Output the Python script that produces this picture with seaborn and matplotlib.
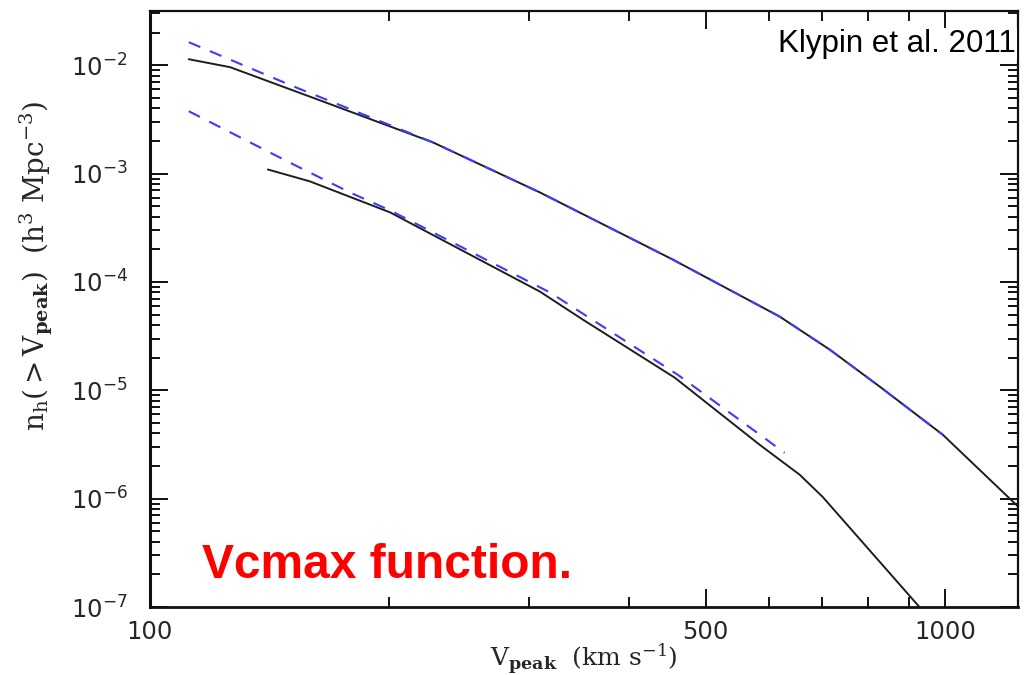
import numpy as np
import pandas as pd
import matplotlib
matplotlib.use("Agg")
import matplotlib.pyplot as plt
import seaborn as sns
from matplotlib.ticker import LogLocator, FixedLocator, NullFormatter, FixedFormatter

# Cumulative velocity function, Bolshoi halos (z = 0) and the z ~ 3 sample
v_hi = [111.9, 126.1, 162.2, 226.9, 309.3, 454.4, 619.4, 716.3, 827.9, 993.5, 1241.0]
n_hi = [1.135e-2, 9.59e-3, 4.85e-3, 1.94e-3, 6.70e-4, 1.61e-4, 4.79e-5, 2.37e-5, 1.08e-5, 3.89e-6, 8.2e-7]

v_hi_fit = [111.9, 151.3, 226.9, 309.3, 454.4, 619.4, 716.3, 827.9, 993.5]
n_hi_fit = [1.63e-2, 6.4e-3, 1.94e-3, 6.70e-4, 1.61e-4, 4.79e-5, 2.37e-5, 1.08e-5, 3.89e-6]

v_lo = [140.7, 158.9, 200.5, 309.3, 350.3, 457.0, 584.7, 656.6, 701.4, 928.6]
n_lo = [1.09e-3, 8.47e-4, 4.38e-4, 8.15e-5, 4.49e-5, 1.31e-5, 3.14e-6, 1.66e-6, 1.04e-6, 1.0e-7]

v_lo_fit = [111.9, 151.3, 178.4, 200.5, 318.6, 461.2, 628.4]
n_lo_fit = [3.76e-3, 1.22e-3, 6.70e-4, 4.57e-4, 7.98e-5, 1.39e-5, 2.65e-6]

x_major = [100, 500, 1000]
x_major_labels = ["100", "500", "1000"]
x_minor = [200, 300, 400, 600, 700, 800, 900]

sns.set_style("ticks")
plt.rcParams["font.family"] = ["DejaVu Sans"]
plt.rcParams["mathtext.fontset"] = "dejavuserif"

fig = plt.figure(figsize=(10.25, 6.75), dpi=100)
ax = fig.add_axes([0.1463, 0.1007, 0.8468, 0.883])

black = "#1e1e1e"
blue = "#3c3cff"

sim = pd.DataFrame({"v": v_hi, "n": n_hi})
fit = pd.DataFrame({"v": v_hi_fit, "n": n_hi_fit})
sim_lo = pd.DataFrame({"v": v_lo, "n": n_lo})
fit_lo = pd.DataFrame({"v": v_lo_fit, "n": n_lo_fit})

# simulation curves first, fits dashed on top
sns.lineplot(data=sim, x="v", y="n", ax=ax, color=black, lw=1.4,
             sort=False, estimator=None)
sns.lineplot(data=sim_lo, x="v", y="n", ax=ax, color=black, lw=1.4,
             sort=False, estimator=None)
sns.lineplot(data=fit, x="v", y="n", ax=ax, color=blue, lw=1.5,
             sort=False, estimator=None, linestyle=(0, (6, 5)))
sns.lineplot(data=fit_lo, x="v", y="n", ax=ax, color=blue, lw=1.5,
             sort=False, estimator=None, linestyle=(0, (6, 5)))

ax.set_xscale("log")
ax.set_yscale("log")
ax.set_xlim(100, 1235)
ax.set_ylim(1e-7, 10 ** -1.5)

ax.xaxis.set_major_locator(FixedLocator(x_major))
ax.xaxis.set_major_formatter(FixedFormatter(x_major_labels))
ax.xaxis.set_minor_locator(FixedLocator(x_minor))
ax.xaxis.set_minor_formatter(NullFormatter())
ax.yaxis.set_major_locator(LogLocator(base=10, numticks=12))
ax.yaxis.set_minor_locator(LogLocator(base=10, subs=np.arange(2, 10), numticks=12))
ax.yaxis.set_minor_formatter(NullFormatter())

for side in ax.spines.values():
    side.set_linewidth(1.6)
    side.set_color("#111111")
ax.spines["left"].set_linewidth(2.2)
ax.spines["bottom"].set_linewidth(2.0)

ax.tick_params(which="both", direction="in", top=True, right=True,
               color="#111111", width=1.4)
ax.tick_params(which="major", length=13, labelsize=17.5)
ax.tick_params(which="minor", length=7)
ax.tick_params(axis="y", which="major", pad=16)
ax.tick_params(axis="x", which="major", pad=9)

ax.set_xlabel(r"$\mathrm{V_{\mathbf{peak}}\ \ (km\ s^{-1})}$", fontsize=18)
ax.xaxis.set_label_coords(0.5, -0.058)
ax.set_ylabel(r"$\mathrm{n_h(>V_{\mathbf{peak}})\ \ (h^3\ Mpc^{-3})}$",
              fontsize=20)
ax.yaxis.set_label_coords(-0.109, 0.572)

ax.text(0.997, 0.945, "Klypin et al. 2011", transform=ax.transAxes,
        ha="right", va="center", fontsize=22.5, family="Liberation Sans",
        color="black", bbox=dict(facecolor="white", edgecolor="none", pad=1))
ax.text(0.06, 0.07, "Vcmax function.", transform=ax.transAxes,
        ha="left", va="center", fontsize=34.5, family="Liberation Sans",
        fontweight="bold", color="#ff0000")

fig.savefig("out.png", dpi=100, facecolor="white")
